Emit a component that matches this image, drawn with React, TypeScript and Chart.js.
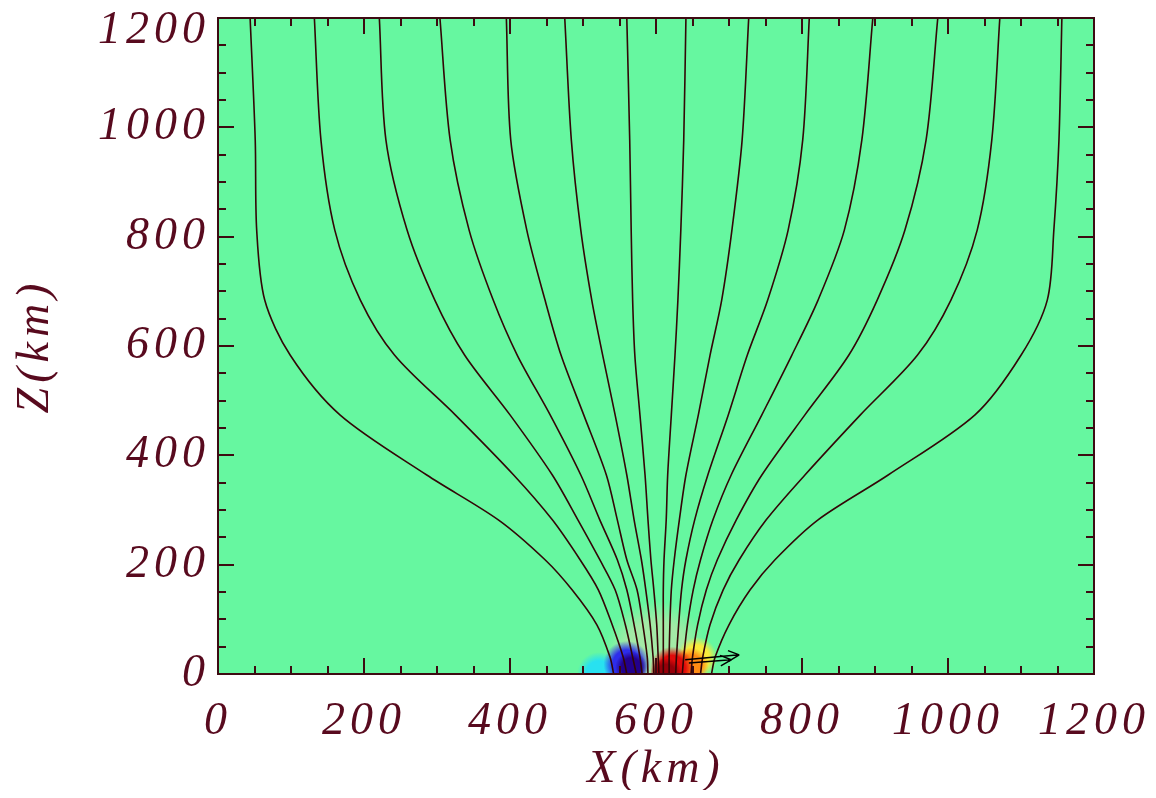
import React, { useEffect, useRef } from 'react';
import { Chart, registerables } from 'chart.js';

Chart.register(...registerables);

const Z_LEVELS = [1200, 977, 812, 684, 583, 474, 364, 282, 209, 154, 90, 31, 0];

// X position (km) of each field line at the heights above
const LINE_01 = [44, 51, 53, 64, 99, 167, 286, 384, 448, 485, 519, 537, 542];
const LINE_02 = [132, 141, 160, 195, 242, 325, 405, 458, 496, 521, 540, 555, 560];
const LINE_03 = [221, 230, 259, 297, 338, 400, 458, 493, 523, 544, 558, 568, 573];
const LINE_04 = [304, 318, 344, 377, 410, 455, 497, 523, 547, 560, 570, 578, 581];
const LINE_05 = [395, 401, 423, 448, 470, 501, 532, 547, 560, 574, 582, 588, 589];
const LINE_06 = [475, 484, 497, 512, 527, 544, 560, 570, 580, 586, 592, 596, 597];
const LINE_07 = [560, 564, 566, 568, 571, 578, 585, 589, 593, 597, 601, 603, 604];
const LINE_08 = [641, 638, 634, 630, 626, 621, 616, 614, 611, 610, 610, 610, 610];
const LINE_09 = [727, 718, 704, 690, 674, 658, 641, 632, 625, 621, 619, 618, 618];
const LINE_10 = [810, 801, 781, 753, 725, 699, 671, 653, 641, 635, 631, 628, 627];
const LINE_11 = [897, 882, 858, 822, 786, 745, 703, 678, 661, 651, 643, 638, 636];
const LINE_12 = [986, 970, 941, 903, 864, 804, 745, 710, 684, 669, 657, 650, 648];
const LINE_13 = [1071, 1060, 1040, 1004, 958, 880, 804, 751, 714, 692, 674, 664, 661];
const LINE_14 = [1156, 1152, 1145, 1136, 1100, 1037, 918, 822, 763, 729, 700, 681, 676];

const FIELD_LINES = [
  LINE_01, LINE_02, LINE_03, LINE_04, LINE_05, LINE_06, LINE_07,
  LINE_08, LINE_09, LINE_10, LINE_11, LINE_12, LINE_13, LINE_14,
];

// Axis ticks
const MAJOR_TICKS = [0, 200, 400, 600, 800, 1000, 1200];
const MINOR_TICKS = [50, 100, 150, 250, 300, 350, 450, 500, 550, 650, 700, 750, 850, 900, 950, 1050, 1100, 1150];
const X_TICK_LABELS = ['0', '200', '400', '600', '800', '1000', '1200'];
const Y_TICK_LABELS = ['0', '200', '400', '600', '800', '1000', '1200'];

// Coloured source region at the bottom (x km, z km, radius km, colour)
const BLOB_X = [600, 522, 656, 648, 560, 566, 622, 614];
const BLOB_Z = [40, 0, 30, 16, 18, 12, 10, 0];
const BLOB_R = [70, 30, 28, 24, 32, 22, 30, 22];
const BLOB_COLORS = [
  'rgba(205,225,170,0.6)',
  'rgba(40,225,240,1)',
  'rgba(250,235,60,1)',
  'rgba(255,140,20,1)',
  'rgba(45,45,235,1)',
  'rgba(35,0,140,1)',
  'rgba(225,10,10,1)',
  'rgba(150,0,10,1)',
];

// Velocity arrows (tail x,z -> tip x,z in km)
const ARROW_X0 = [640, 645];
const ARROW_Z0 = [26, 20];
const ARROW_X1 = [714, 703];
const ARROW_Z1 = [35, 26];

const GREEN = '#66f7a0';
const TEXT_COLOR = '#580a1e';
const AXIS_COLOR = '#3d0b12';
const LINE_COLOR = '#330606';
const FONT_FAMILY = '"Liberation Serif", serif';
const LETTER_SPACING = '5px';

const noPad = (s: any) => {
  s.paddingLeft = 0;
  s.paddingRight = 0;
  s.paddingTop = 0;
  s.paddingBottom = 0;
};

const backgroundPlugin = {
  id: 'bgField',
  beforeDraw(chart: any) {
    chart.ctx.letterSpacing = LETTER_SPACING;
  },
  beforeDatasetsDraw(chart: any) {
    const { ctx, chartArea: a, scales } = chart;
    const xs = scales.x;
    const ys = scales.y;
    ctx.save();
    ctx.fillStyle = GREEN;
    ctx.fillRect(a.left, a.top, a.right - a.left, a.bottom - a.top);
    ctx.beginPath();
    ctx.rect(a.left, a.top, a.right - a.left, a.bottom - a.top);
    ctx.clip();
    for (let i = 0; i < BLOB_X.length; i++) {
      const cx = xs.getPixelForValue(BLOB_X[i]);
      const cy = ys.getPixelForValue(BLOB_Z[i]);
      const r = xs.getPixelForValue(BLOB_X[i] + BLOB_R[i]) - cx;
      const g = ctx.createRadialGradient(cx, cy, 0, cx, cy, r);
      const c = BLOB_COLORS[i];
      g.addColorStop(0, c);
      g.addColorStop(0.6, c);
      g.addColorStop(1, c.replace(/,[\d.]+\)$/, ',0)'));
      ctx.fillStyle = g;
      ctx.beginPath();
      ctx.arc(cx, cy, r, 0, Math.PI * 2);
      ctx.fill();
    }
    ctx.restore();
  },
  afterDatasetsDraw(chart: any) {
    const { ctx, chartArea: a, scales } = chart;
    const xs = scales.x;
    const ys = scales.y;
    ctx.save();
    ctx.strokeStyle = '#000000';
    ctx.lineWidth = 1.5;
    for (let i = 0; i < ARROW_X0.length; i++) {
      const x0 = xs.getPixelForValue(ARROW_X0[i]);
      const y0 = ys.getPixelForValue(ARROW_Z0[i]);
      const x1 = xs.getPixelForValue(ARROW_X1[i]);
      const y1 = ys.getPixelForValue(ARROW_Z1[i]);
      const ang = Math.atan2(y1 - y0, x1 - x0);
      ctx.beginPath();
      ctx.moveTo(x0, y0);
      ctx.lineTo(x1, y1);
      ctx.moveTo(x1, y1);
      ctx.lineTo(x1 - 12 * Math.cos(ang - 0.45), y1 - 12 * Math.sin(ang - 0.45));
      ctx.moveTo(x1, y1);
      ctx.lineTo(x1 - 12 * Math.cos(ang + 0.45), y1 - 12 * Math.sin(ang + 0.45));
      ctx.stroke();
    }
    ctx.strokeStyle = AXIS_COLOR;
    ctx.lineWidth = 2;
    const drawSet = (vals: number[], len: number) => {
      ctx.beginPath();
      for (const v of vals) {
        const px = Math.round(xs.getPixelForValue(v));
        ctx.moveTo(px, a.bottom);
        ctx.lineTo(px, a.bottom - len);
        ctx.moveTo(px, a.top);
        ctx.lineTo(px, a.top + len);
        const py = Math.round(ys.getPixelForValue(v));
        ctx.moveTo(a.left, py);
        ctx.lineTo(a.left + len, py);
        ctx.moveTo(a.right, py);
        ctx.lineTo(a.right - len, py);
      }
      ctx.stroke();
    };
    drawSet(MAJOR_TICKS, 16);
    drawSet(MINOR_TICKS, 8);
    ctx.strokeRect(a.left, a.top, a.right - a.left, a.bottom - a.top);
    ctx.restore();
  },
};

export default function App() {
  const canvasRef = useRef<HTMLCanvasElement | null>(null);

  useEffect(() => {
    if (!canvasRef.current) return;
    const datasets = FIELD_LINES.map((xsArr, i) => ({
      label: 'line ' + (i + 1),
      data: xsArr.map((xv, j) => ({ x: xv, y: Z_LEVELS[j] })),
      showLine: true,
      borderColor: LINE_COLOR,
      borderWidth: 1.6,
      pointRadius: 0,
      tension: 0.3,
      fill: false,
    }));

    const chart = new Chart(canvasRef.current, {
      type: 'scatter',
      data: { datasets },
      options: {
        responsive: false,
        animation: false,
        layout: { padding: { top: 10, right: 54, left: 0, bottom: 0 } },
        plugins: { legend: { display: false }, tooltip: { enabled: false } },
        scales: {
          x: {
            type: 'linear',
            min: 0,
            max: 1200,
            afterFit: (s: any) => { s.height = 116; noPad(s); },
            afterBuildTicks: (s: any) => { s.ticks = MAJOR_TICKS.map((v) => ({ value: v })); },
            grid: { display: false, drawTicks: false },
            border: { display: false },
            ticks: {
              autoSkip: false,
              maxRotation: 0,
              padding: 20,
              color: TEXT_COLOR,
              font: { family: FONT_FAMILY, style: 'italic', size: 46 },
              callback: (v: any) => X_TICK_LABELS[MAJOR_TICKS.indexOf(Number(v))],
            },
            title: {
              display: true,
              text: 'X(km)',
              color: TEXT_COLOR,
              font: { family: FONT_FAMILY, style: 'italic', size: 46, lineHeight: 0.8 },
              padding: { top: 0, bottom: 2 },
            },
          },
          y: {
            type: 'linear',
            min: 0,
            max: 1200,
            afterFit: (s: any) => { s.width = 210; noPad(s); },
            afterBuildTicks: (s: any) => { s.ticks = MAJOR_TICKS.map((v) => ({ value: v })); },
            grid: { display: false, drawTicks: false },
            border: { display: false },
            ticks: {
              autoSkip: false,
              padding: 8,
              color: TEXT_COLOR,
              font: { family: FONT_FAMILY, style: 'italic', size: 46, lineHeight: 0.55 },
              callback: (v: any) => {
                const lab = Y_TICK_LABELS[MAJOR_TICKS.indexOf(Number(v))];
                return Number(v) === 1200 ? ['', lab] : lab;
              },
            },
            title: {
              display: true,
              text: 'Z(km)',
              color: TEXT_COLOR,
              font: { family: FONT_FAMILY, style: 'italic', size: 46, lineHeight: 0.8 },
              padding: { top: 10, bottom: 0 },
            },
          },
        },
      },
      plugins: [backgroundPlugin],
    } as any);

    return () => chart.destroy();
  }, []);

  return (
    <div style={{ width: 1140, height: 782 }}>
      <canvas ref={canvasRef} width={1140} height={782} style={{ display: 'block' }} />
    </div>
  );
}
